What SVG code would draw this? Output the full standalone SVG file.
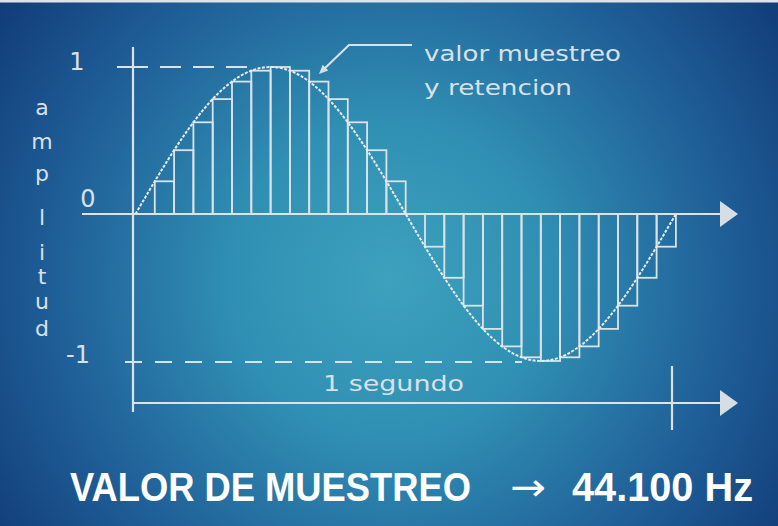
<svg xmlns="http://www.w3.org/2000/svg" width="778" height="526" viewBox="0 0 778 526">
<defs>
<radialGradient id="bg" cx="390" cy="280" r="520" gradientUnits="userSpaceOnUse">
<stop offset="0" stop-color="#3ea1bd"/>
<stop offset="0.3" stop-color="#3090b4"/>
<stop offset="0.65" stop-color="#1f5e97"/>
<stop offset="1" stop-color="#0d3270"/>
</radialGradient>
<style>
.ax{stroke:#dbe3e9;stroke-width:2.2;fill:none}
.bar{stroke:#dbe3e9;stroke-width:1.8;fill:none}
.curve{stroke:#e6ecf0;stroke-width:2;stroke-dasharray:3 1.5;fill:none}
.dash{stroke:#dbe3e9;stroke-width:2;fill:none}
.head{fill:#d6dee4}
.lbl{font-family:"DejaVu Sans",sans-serif;fill:#d9e1e7}
.big{font-family:"Liberation Sans",Arial,sans-serif;font-weight:bold;fill:#ffffff;font-size:40px}
</style>
</defs>
<rect width="778" height="526" fill="url(#bg)"/>
<rect width="778" height="2.5" fill="#dde3e8"/>

<g id="connectors">
<line class="ax" x1="133" y1="47" x2="133" y2="412"/>
<line class="ax" x1="82" y1="214" x2="722" y2="214"/>
<polygon class="head" points="720,201 738,214 720,227"/>
<line class="ax" x1="133" y1="403" x2="722" y2="403"/>
<polygon class="head" points="720,390 738,403 720,416"/>
<line class="ax" x1="672" y1="366" x2="672" y2="430"/>
<line class="dash" x1="117" y1="67" x2="148" y2="67"/>
<line class="dash" x1="160" y1="67" x2="252" y2="67" stroke-dasharray="21 12"/>
<line class="dash" x1="125" y1="362" x2="522" y2="362" stroke-dasharray="17 13"/>
<polyline class="dash" points="412,45 349,45 323,70"/>
<polygon class="head" points="319,74 328.3,70.6 322.7,64.8"/>
</g>

<g id="samples">
<rect class="bar" x="154.8" y="181.3" width="19.3" height="32.7"/>
<rect class="bar" x="174.1" y="150.2" width="19.3" height="63.8"/>
<rect class="bar" x="193.4" y="122.3" width="19.3" height="91.7"/>
<rect class="bar" x="212.7" y="99.1" width="19.3" height="114.9"/>
<rect class="bar" x="232.0" y="81.6" width="19.3" height="132.4"/>
<rect class="bar" x="251.3" y="70.7" width="19.3" height="143.3"/>
<rect class="bar" x="270.6" y="67" width="19.3" height="147"/>
<rect class="bar" x="289.9" y="70.7" width="19.3" height="143.3"/>
<rect class="bar" x="309.2" y="81.6" width="19.3" height="132.4"/>
<rect class="bar" x="328.5" y="99.1" width="19.3" height="114.9"/>
<rect class="bar" x="347.8" y="122.3" width="19.3" height="91.7"/>
<rect class="bar" x="367.1" y="150.2" width="19.3" height="63.8"/>
<rect class="bar" x="386.4" y="181.3" width="19.3" height="32.7"/>
<rect class="bar" x="425.0" y="214" width="19.3" height="32.7"/>
<rect class="bar" x="444.3" y="214" width="19.3" height="63.8"/>
<rect class="bar" x="463.6" y="214" width="19.3" height="91.7"/>
<rect class="bar" x="482.9" y="214" width="19.3" height="114.9"/>
<rect class="bar" x="502.2" y="214" width="19.3" height="132.4"/>
<rect class="bar" x="521.5" y="214" width="19.3" height="143.3"/>
<rect class="bar" x="540.8" y="214" width="19.3" height="147"/>
<rect class="bar" x="560.1" y="214" width="19.3" height="143.3"/>
<rect class="bar" x="579.4" y="214" width="19.3" height="132.4"/>
<rect class="bar" x="598.7" y="214" width="19.3" height="114.9"/>
<rect class="bar" x="618.0" y="214" width="19.3" height="91.7"/>
<rect class="bar" x="637.3" y="214" width="19.3" height="63.8"/>
<rect class="bar" x="656.6" y="214" width="19.3" height="32.7"/>
</g>

<g id="wave">
<path class="curve" d="M135.5,214 C179.56,138.69 221.71,67 270.6,67 C319.49,67 361.64,138.69 405.7,214 C449.76,289.31 491.91,361 540.8,361 C589.69,361 631.84,289.31 675.9,214"/>
</g>

<g id="labels" class="lbl">
<text x="77" y="70" font-size="24" text-anchor="middle">1</text>
<text x="88" y="207" font-size="24" text-anchor="middle">0</text>
<text x="78" y="363" font-size="24" text-anchor="middle">-1</text>
<g font-size="22" text-anchor="middle">
<text x="42" y="115">a</text>
<text x="42" y="149">m</text>
<text x="42" y="181">p</text>
<text x="42" y="225">l</text>
<text x="42" y="260">i</text>
<text x="42" y="284">t</text>
<text x="42" y="309">u</text>
<text x="42" y="336">d</text>
</g>
<text x="424" y="61" font-size="22" textLength="197" lengthAdjust="spacingAndGlyphs">valor muestreo</text>
<text x="424" y="95" font-size="22" textLength="148" lengthAdjust="spacingAndGlyphs">y retencion</text>
<text x="323" y="391" font-size="22" textLength="141" lengthAdjust="spacingAndGlyphs">1 segundo</text>
</g>

<g id="caption">
<text class="big" x="70" y="501" textLength="401" lengthAdjust="spacingAndGlyphs">VALOR DE MUESTREO</text>
<text x="510" y="500" font-family="DejaVu Sans,sans-serif" font-size="38" fill="#ffffff" textLength="36" lengthAdjust="spacingAndGlyphs">→</text>
<text class="big" x="572" y="501" textLength="181" lengthAdjust="spacingAndGlyphs">44.100 Hz</text>
</g>
</svg>
